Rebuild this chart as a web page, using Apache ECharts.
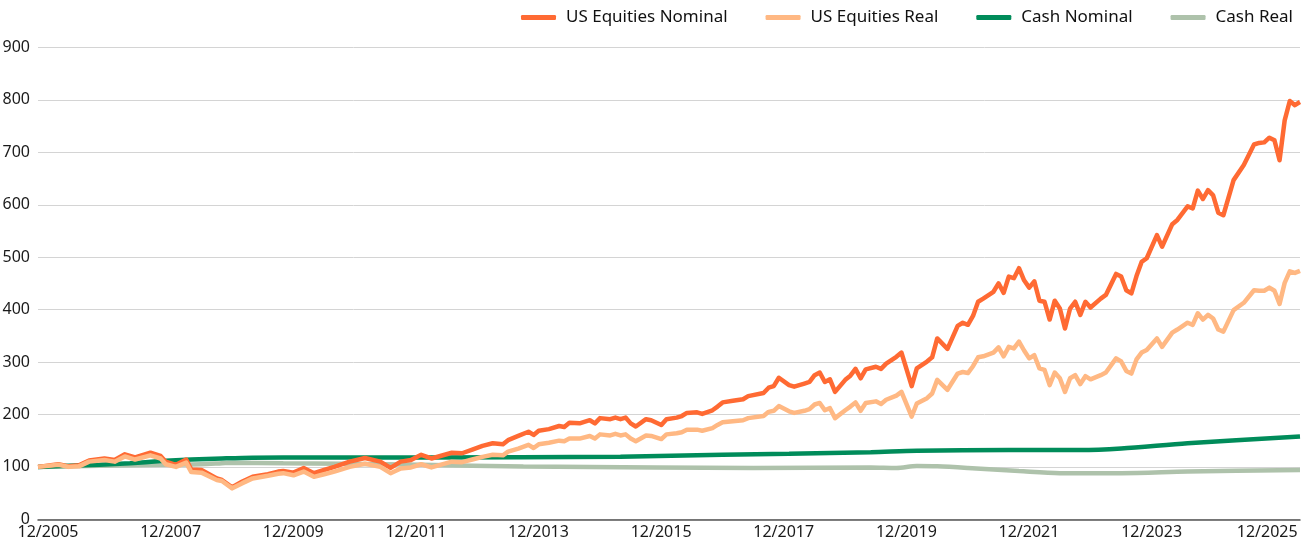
<!DOCTYPE html>
<html>
<head>
<meta charset="utf-8">
<title>US Equities vs Cash</title>
<script src="https://cdn.jsdelivr.net/npm/echarts@6/dist/echarts.min.js"></script>
<style>
    html, body { margin: 0; padding: 0; background: #fff; }
    #mainChart { width: 1301px; height: 546px; }
</style>
</head>
<body>
<div id="mainChart"></div>
<script>
'use strict';

// months counted from 12/2005
var eqMonths = [
    0, 4, 6, 8, 10, 13, 15, 17, 19, 22,
    24, 25, 27, 29, 30, 32, 35, 36, 38, 40,
    42, 45, 47, 48, 50, 52, 54, 56, 58, 61,
    64, 67, 69, 71, 73, 75, 77, 81, 83, 85,
    87, 89, 91, 92, 94, 96, 97, 98, 100, 102,
    103, 104, 106, 108, 109, 110, 112, 113, 114, 115,
    116, 117, 119, 120, 122, 123, 125, 126, 127, 129,
    130, 132, 133, 134, 136, 138, 139, 142, 143, 144,
    145, 147, 148, 150, 151, 152, 153, 154, 155, 156,
    158, 159, 160, 161, 162, 164, 165, 166, 168, 169,
    171, 172, 174, 175, 176, 178, 180, 181, 182, 183,
    184, 185, 187, 188, 189, 190, 191, 192, 193, 194,
    195, 196, 197, 198, 199, 200, 201, 202, 203, 204,
    205, 206, 208, 209, 211, 212, 213, 214, 215, 216,
    217, 219, 220, 222, 223, 225, 226, 227, 228, 229,
    230, 231, 232, 234, 236, 238, 239, 240, 241, 242,
    243, 244, 245, 246, 247
];
var eqNominal = [
    100, 105, 101, 103, 112, 116, 113, 124, 118, 127,
    121, 110, 104, 114, 95, 94, 78, 75, 61, 72,
    81, 86, 91, 92, 89, 98, 88, 94, 100, 110,
    117, 110, 98, 110, 113, 123, 116, 127, 126, 133,
    140, 145, 143, 151, 159, 167, 161, 169, 172, 178,
    176, 184, 183, 189, 183, 193, 191, 194, 191, 194,
    183, 177, 191, 189, 180, 191, 194, 197, 203, 204,
    201, 208, 215, 223, 226, 229, 235, 241, 251, 254,
    270, 256, 253, 259, 262, 275, 280, 262, 267, 243,
    266, 274, 287, 269, 286, 291, 287, 297, 310, 318,
    254, 288, 301, 309, 345, 325, 369, 375, 371, 388,
    415, 421, 434, 450, 432, 463, 460, 479, 456, 442,
    454, 417, 415, 381, 417, 402, 364, 402, 415, 390,
    415, 404, 421, 428, 468, 463, 437, 431, 464, 491,
    498, 542, 520, 563, 571, 597, 593, 627, 611, 628,
    618, 585, 580, 647, 676, 715, 718, 719, 728, 723,
    685, 761, 798, 790, 796
];
var eqReal = [
    100, 104, 100, 101, 110, 113, 110, 120, 114, 122,
    116, 105, 100, 108, 90, 89, 75, 73, 59, 69,
    78, 83, 87, 88, 84, 91, 81, 86, 91, 100,
    106, 100, 88, 97, 99, 105, 99, 110, 109, 114,
    119, 123, 122, 129, 135, 142, 136, 143, 146, 150,
    149, 154, 154, 159, 154, 162, 160, 163, 160, 162,
    154, 149, 160, 159, 153, 162, 164, 166, 171, 171,
    169, 174, 180, 185, 187, 189, 193, 197, 205, 207,
    216, 206, 203, 207, 210, 219, 222, 208, 212, 193,
    208, 215, 223, 207, 222, 225, 220, 228, 236, 243,
    196, 221, 231, 240, 266, 247, 278, 281, 279, 292,
    309, 311, 318, 328, 311, 329, 326, 339, 322, 307,
    313, 288, 285, 256, 280, 269, 243, 269, 275, 258,
    273, 267, 275, 280, 307, 301, 283, 278, 305, 318,
    323, 345, 329, 356, 362, 375, 371, 393, 381, 390,
    383, 362, 358, 399, 413, 437, 436, 436, 442, 436,
    411, 451, 473, 470, 474
];

var cashNomMonths = [0, 6, 12, 18, 24, 30, 36, 42, 54, 75, 114, 134, 147, 163, 172, 190, 204, 212, 225, 247];
var cashNominal = [100, 102, 104, 107, 111, 114, 116, 117.5, 118, 118, 119.5, 123, 125, 128, 131, 132, 132, 135, 145, 158];

var cashRealMonths = [0, 12, 24, 32, 36, 38, 48, 60, 75, 95, 121, 140, 163, 168, 172, 176, 182, 192, 200, 212, 225, 247];
var cashReal = [100, 102, 104, 105, 107, 108, 107, 106, 104, 100.5, 99, 98, 99, 98, 101.5, 101, 98, 92, 88, 88, 91, 94];

var tickMonths = [0, 24, 48, 72, 96, 120, 144, 168, 192, 216, 240];
var tickLabels = ['12/2005', '12/2007', '12/2009', '12/2011', '12/2013', '12/2015',
    '12/2017', '12/2019', '12/2021', '12/2023', '12/2025'];

var seriesNames = ['US Equities Nominal', 'US Equities Real', 'Cash Nominal', 'Cash Real'];
var seriesColors = ['#ff6a33', '#ffb883', '#008c5a', '#aec2ab'];

function pairs(xs, ys) {
    return xs.map(function(x, i) { return [x, ys[i]]; });
}

var myChart = echarts.init(document.getElementById('mainChart'));

var option = {
    animation: false,
    textStyle: { fontFamily: '"Noto Sans", "Liberation Sans", sans-serif' },
    legend: {
        data: seriesNames,
        right: 3,
        top: 4,
        icon: 'roundRect',
        itemWidth: 35,
        itemHeight: 5,
        itemGap: 38,
        textStyle: {
            fontSize: 17,
            color: '#111',
            padding: [0, 0, 0, 5]
        }
    },
    grid: {
        left: 38,
        right: 1,
        top: 47.5,
        bottom: 26.7,
        outerBoundsMode: 'none'
    },
    xAxis: {
        type: 'value',
        min: 0,
        max: 247,
        axisLine: { show: true, lineStyle: { color: '#555', width: 1.5 } },
        axisTick: { show: false },
        splitLine: { show: false },
        axisLabel: {
            customValues: tickMonths,
            margin: 5,
            fontSize: 16,
            color: '#1a1a1a',
            formatter: function(v) {
                var i = tickMonths.indexOf(v);
                if (i < 0) return '';
                // labels sit a little right of their month in the original
                return (i === tickMonths.length - 1 ? '{e|' : '{l|') + tickLabels[i] + '}';
            },
            rich: {
                l: { fontSize: 16, color: '#1a1a1a', padding: [0, 0, 0, 20] },
                e: { fontSize: 16, color: '#1a1a1a', padding: [0, 0, 0, 6] }
            }
        }
    },
    yAxis: {
        type: 'value',
        min: 0,
        max: 900,
        interval: 100,
        axisLine: { show: false },
        axisTick: { show: false },
        splitLine: { lineStyle: { color: '#d4d4d4', width: 1 } },
        axisLabel: { margin: 8, fontSize: 16, color: '#1a1a1a' }
    },
    series: [{
        name: 'Cash Real',
        type: 'line',
        data: pairs(cashRealMonths, cashReal),
        smooth: 0.3,
        symbol: 'none',
        color: seriesColors[3],
        lineStyle: { width: 4.5, color: seriesColors[3] }
    }, {
        name: 'Cash Nominal',
        type: 'line',
        data: pairs(cashNomMonths, cashNominal),
        smooth: 0.3,
        symbol: 'none',
        color: seriesColors[2],
        lineStyle: { width: 4.5, color: seriesColors[2] }
    }, {
        name: 'US Equities Nominal',
        type: 'line',
        data: pairs(eqMonths, eqNominal),
        symbol: 'none',
        color: seriesColors[0],
        lineStyle: { width: 4.5, color: seriesColors[0], join: 'round' }
    }, {
        name: 'US Equities Real',
        type: 'line',
        data: pairs(eqMonths, eqReal),
        symbol: 'none',
        color: seriesColors[1],
        lineStyle: { width: 4.5, color: seriesColors[1], join: 'round' }
    }]
};

myChart.setOption(option);
</script>
</body>
</html>
